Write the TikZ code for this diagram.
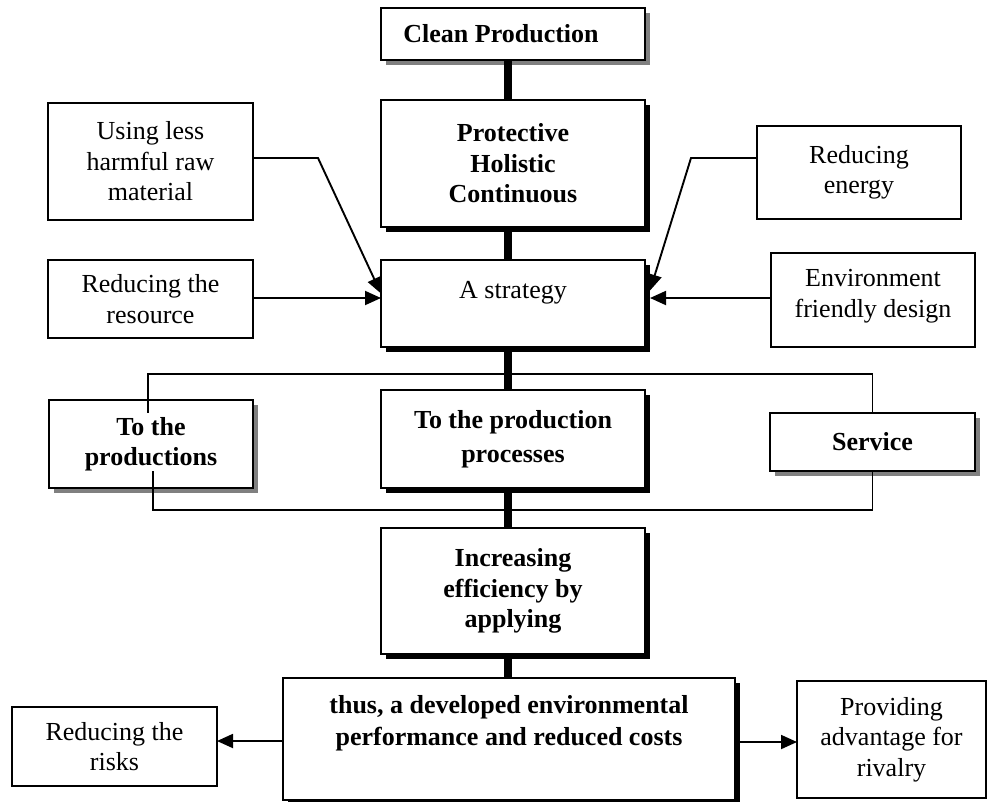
\documentclass[tikz,border=0pt]{standalone}
\usepackage{fontspec}
\setmainfont{Liberation Serif}
\usetikzlibrary{shadows,arrows.meta,calc}
\begin{document}
\begin{tikzpicture}[x=1pt,y=-1pt,
  txt/.style={font=\fontsize{26pt}{30.5pt}\selectfont, align=center},
  btxt/.style={font=\fontsize{26pt}{30.5pt}\selectfont\bfseries, align=center},
  box/.style={draw, line width=1.4pt, fill=white, inner sep=0pt, outer sep=0pt},
  gshad/.style={drop shadow={shadow xshift=5pt,shadow yshift=-5pt,opacity=1,fill=black!50}},
  kshad/.style={drop shadow={shadow xshift=5pt,shadow yshift=-5pt,opacity=1,fill=black}},
  thick link/.style={line width=8pt},
  thin link/.style={line width=1.5pt},
  arr/.style={line width=1.9pt, -{Triangle[length=16pt,width=14pt]}}
]
\fill[white] (0,0) rectangle (987,801);
\useasboundingbox (0,0) rectangle (987,801);

% central column
\node[box,gshad,minimum width=264pt,minimum height=52pt] (cp) at (513,34) {};
\node[btxt] (cptext) at (501,34) {Clean Production};
\node[box,kshad,btxt,minimum width=264pt,minimum height=127pt] (prot) at (513,163.5) {Protective\\Holistic\\Continuous};
\node[box,kshad,minimum width=264pt,minimum height=87pt] (strat) at (513,303.5) {};
\node[txt,anchor=base] (strattext) at (513,298) {A strategy};
\node[box,kshad,btxt,minimum width=264pt,minimum height=98pt] (proc) at (513,439) {To the production\\[4pt]processes};
\node[box,kshad,btxt,minimum width=264pt,minimum height=126pt] (incr) at (513,591) {Increasing\\efficiency by\\applying};
\node[box,kshad,minimum width=452pt,minimum height=122pt] (thus) at (509,739) {};
\node[btxt,font=\fontsize{26pt}{32pt}\selectfont\bfseries] (thustext) at (509,723) {thus, a developed environmental\\performance and reduced costs};

% side boxes
\node[box,txt,minimum width=205pt,minimum height=117pt] (using) at (150.5,161.5) {Using less\\harmful raw\\material};
\node[box,txt,minimum width=205pt,minimum height=78pt] (resource) at (150.5,299) {Reducing the\\resource};
\node[box,txt,minimum width=204pt,minimum height=93pt] (energy) at (859,172.5) {Reducing\\energy};
\node[box,minimum width=204pt,minimum height=94pt] (envd) at (873,300) {};
\node[txt] (envdtext) at (873,296) {Environment\\friendly design};
\node[box,gshad,btxt,minimum width=204pt,minimum height=88pt] (prods) at (151,444) {To the\\productions};
\node[box,gshad,btxt,minimum width=205pt,minimum height=58pt] (service) at (872.5,442) {Service};
\node[box,txt,minimum width=205pt,minimum height=79pt] (risks) at (114.5,746.5) {Reducing the\\risks};
\node[box,txt,minimum width=189pt,minimum height=117pt] (rivalry) at (891.5,739.5) {Providing\\advantage for\\rivalry};

% thick vertical connectors
\draw[thick link] ($(cp.south)+(-5,0.7)$) -- ($(prot.north)+(-5,-0.7)$);
\draw[thick link] ($(prot.south)+(-5,0.7)$) -- ($(strat.north)+(-5,-0.7)$);
\draw[thick link] ($(strat.south)+(-5,0.7)$) -- ($(proc.north)+(-5,-0.7)$);
\draw[thick link] ($(proc.south)+(-5,0.7)$) -- ($(incr.north)+(-5,-0.7)$);
\draw[thick link] ($(incr.south)+(-5,0.7)$) -- ($(thus.north)+(-1,-0.7)$);

% bracket lines
\coordinate (brtop) at (513,374);
\coordinate (brbot) at (513,510);
\draw[thin link] (service.north) |- (brtop) -| ($(prods.north)+(-3,13)$);
\draw[thin link] (service.south) |- (brbot) -| ($(prods.south)+(2,-17)$);

% arrows into strategy
\coordinate (k1) at (318,158);
\coordinate (k2) at (691,158);
\draw[arr] (using.east |- k1) -- (k1) -- ($(strat.west)+(0,-10)$);
\draw[arr] ($(resource.east)+(0,-1)$) -- ($(resource.east -| strat.west)+(0,-1)$);
\draw[arr] (energy.west |- k2) -- (k2) -- ($(strat.east)+(5,-13)$);
\draw[arr] ($(envd.west)+(0,-2)$) -- ($(envd.west -| strat.east)+(5,-2)$);

% bottom arrows
\draw[arr] ($(thus.west)+(0,2)$) -- ($(thus.west -| risks.east)+(0,2)$);
\draw[arr] ($(thus.east)+(4,3)$) -- ($(rivalry.west |- thus.east)+(0,3)$);
\end{tikzpicture}
\end{document}
